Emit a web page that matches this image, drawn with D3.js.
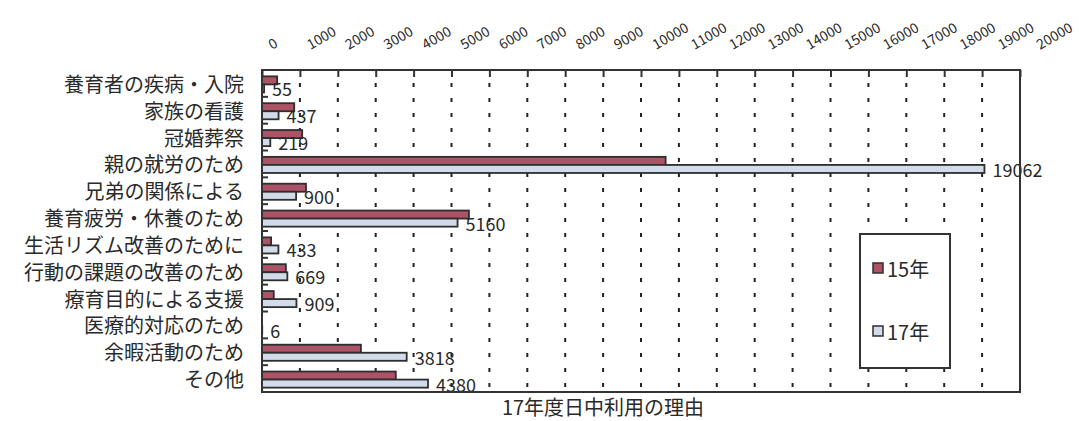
<!DOCTYPE html>
<html>
<head>
<meta charset="utf-8">
<script src="https://cdn.jsdelivr.net/npm/d3@7"></script>
<style>
    body { margin: 0; background: #fff; }
    svg { display: block; font-family: "Noto Sans CJK JP", "Noto Sans", sans-serif; }
</style>
</head>
<body>
<svg></svg>
<script>

const categories = [
    "養育者の疾病・入院",
    "家族の看護",
    "冠婚葬祭",
    "親の就労のため",
    "兄弟の関係による",
    "養育疲労・休養のため",
    "生活リズム改善のために",
    "行動の課題の改善のため",
    "療育目的による支援",
    "医療的対応のため",
    "余暇活動のため",
    "その他"
]

const seriesNames = ["15年", "17年"]

const values15 = [400, 850, 1060, 10650, 1160, 5460, 240, 630, 310, 0, 2610, 3530]
const values17 = [55, 437, 219, 19062, 900, 5160, 433, 669, 909, 6, 3818, 4380]

const xTicks = [0, 1000, 2000, 3000, 4000, 5000, 6000, 7000, 8000, 9000, 10000,
    11000, 12000, 13000, 14000, 15000, 16000, 17000, 18000, 19000, 20000]

const title = "17年度日中利用の理由"

const colors = ["#ad5367", "#d2dbe9"]

const width = 1079
const height = 421

const svg = d3.select("svg")
    .attr("width", width)
    .attr("height", height)

svg.append("rect")
    .attr("width", width)
    .attr("height", height)
    .attr("fill", "#fff")

const plotLeft = 262, plotRight = 1020, plotTop = 70, plotBottom = 392

const x = d3.scaleLinear()
    .domain([0, 20000])
    .range([plotLeft, plotRight])

// labels drift a bit wider than the ticks in the original
const xLabel = d3.scaleLinear()
    .domain([0, 20000])
    .range([272, 1040])

const y = d3.scaleBand()
    .domain(categories)
    .range([plotTop, plotBottom])
    .paddingInner(0.4)
    .paddingOuter(0.2)

const ySub = d3.scaleBand()
    .domain(seriesNames)
    .range([0, y.bandwidth()])

const rows = categories.map((c, i) => {
    return { cat: c, v: [values15[i], values17[i]] }
})

// dashed grid lines
svg.append("g")
    .selectAll("line")
    .data(xTicks.filter(t => t > 0 && t < 20000))
    .enter()
    .append("line")
    .attr("x1", d => x(d))
    .attr("x2", d => x(d))
    .attr("y1", plotTop + 7)
    .attr("y2", plotBottom)
    .attr("stroke", "#222")
    .attr("stroke-width", 2)
    .attr("stroke-dasharray", "4,11")
    .attr("stroke-dashoffset", -6)

// bars
const groups = svg.append("g")
    .selectAll("g")
    .data(rows)
    .enter()
    .append("g")
    .attr("transform", d => `translate(0, ${y(d.cat) + 1})`)

groups.selectAll("rect")
    .data(d => d.v.map((v, i) => ({ name: seriesNames[i], v: v, i: i })).filter(b => b.v > 0))
    .enter()
    .append("rect")
    .attr("x", x(0))
    .attr("y", d => ySub(d.name))
    .attr("width", d => x(d.v) - x(0))
    .attr("height", ySub.bandwidth())
    .attr("fill", d => colors[d.i])
    .attr("stroke", "#2e2e2e")
    .attr("stroke-width", 1.8)

// value labels for 17年
groups.append("text")
    .attr("x", d => x(d.v[1]) + 8)
    .attr("y", ySub("17年") + ySub.bandwidth() / 2)
    .attr("dominant-baseline", "central")
    .style("font-size", "18px")
    .style("fill", "#2a2a2a")
    .text(d => d.v[1])

// frame
svg.append("rect")
    .attr("x", plotLeft)
    .attr("y", plotTop)
    .attr("width", plotRight - plotLeft)
    .attr("height", plotBottom - plotTop)
    .attr("fill", "none")
    .attr("stroke", "#333")
    .attr("stroke-width", 2)

// top axis
const xAxis = d3.axisTop(x)
    .tickValues(xTicks)
    .tickSize(-7)
    .tickFormat("")

const axisG = svg.append("g")
    .attr("transform", `translate(0, ${plotTop})`)
    .call(xAxis)

axisG.select(".domain").remove()
axisG.selectAll(".tick line")
    .attr("stroke", "#333")
    .attr("stroke-width", 2)

svg.append("g")
    .selectAll("text")
    .data(xTicks)
    .enter()
    .append("text")
    .attr("transform", d => `translate(${xLabel(d)}, 50) rotate(-30)`)
    .style("font-size", "14px")
    .style("fill", "#2a2a2a")
    .text(d => d)

// left axis: ticks on band boundaries
const boundaries = categories.slice(1).map(c => y(c) - y.step() * y.paddingInner() / 2)

svg.append("g")
    .selectAll("line")
    .data(boundaries)
    .enter()
    .append("line")
    .attr("x1", plotLeft)
    .attr("x2", plotLeft + 6)
    .attr("y1", d => d)
    .attr("y2", d => d)
    .attr("stroke", "#333")
    .attr("stroke-width", 2)

svg.append("g")
    .selectAll("text")
    .data(categories)
    .enter()
    .append("text")
    .attr("x", 244)
    .attr("y", d => y(d) + y.bandwidth() / 2)
    .attr("text-anchor", "end")
    .attr("dominant-baseline", "central")
    .style("font-size", "20px")
    .style("fill", "#2a2a2a")
    .text(d => d)

// legend
svg.append("rect")
    .attr("x", 860)
    .attr("y", 234)
    .attr("width", 90)
    .attr("height", 134)
    .attr("fill", "#fff")
    .attr("stroke", "#333")
    .attr("stroke-width", 2)

const legendY = d3.scalePoint()
    .domain(seriesNames)
    .range([268, 331])

const items = svg.append("g")
    .selectAll("g")
    .data(seriesNames)
    .enter()
    .append("g")
    .attr("transform", d => `translate(873, ${legendY(d)})`)

items.append("rect")
    .attr("x", 0)
    .attr("y", -5)
    .attr("width", 10)
    .attr("height", 10)
    .attr("fill", (d, i) => colors[i])
    .attr("stroke", "#2e2e2e")
    .attr("stroke-width", 1.5)

items.append("text")
    .attr("x", 14)
    .attr("y", 0)
    .attr("dominant-baseline", "central")
    .style("font-size", "20px")
    .style("fill", "#2a2a2a")
    .text(d => d)

svg.append("text")
    .attr("x", 603)
    .attr("y", 406)
    .attr("text-anchor", "middle")
    .attr("dominant-baseline", "central")
    .style("font-size", "20px")
    .style("fill", "#2a2a2a")
    .text(title)

</script>
</body>
</html>
